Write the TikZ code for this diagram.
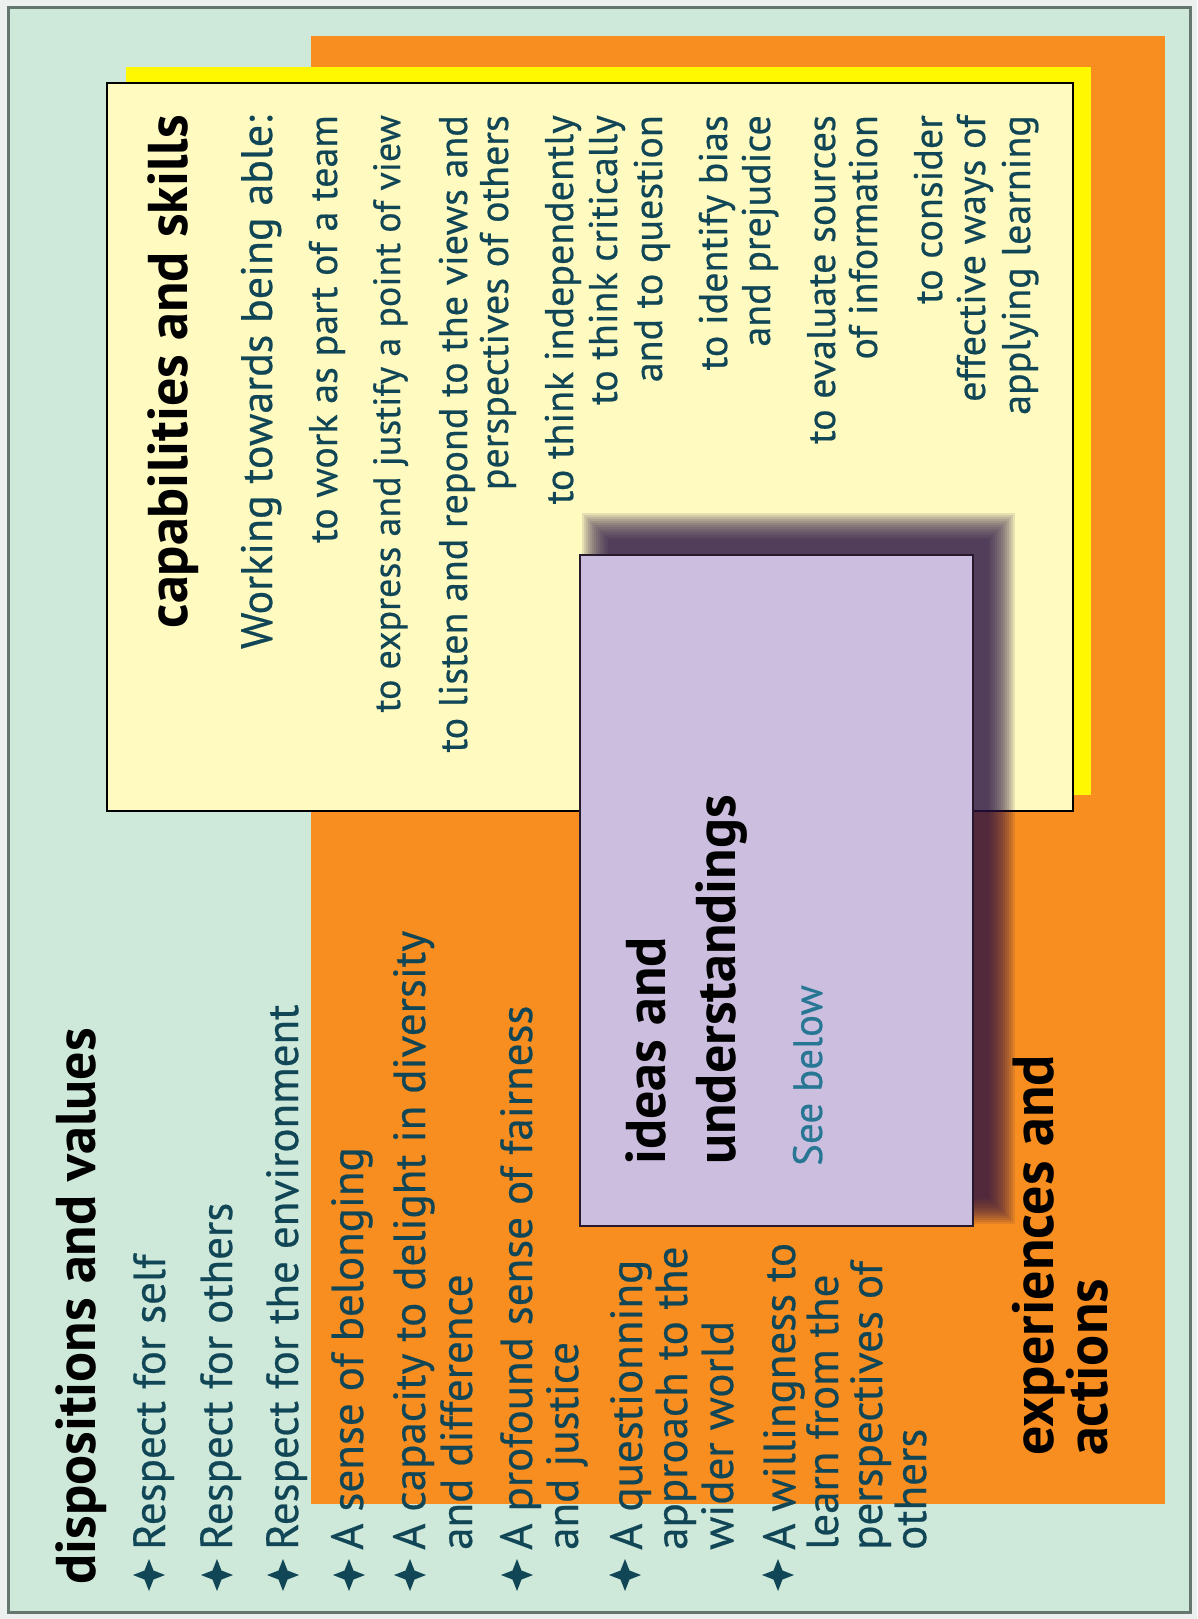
\documentclass[tikz,border=0pt]{standalone}
\usepackage{fontspec}
\setmainfont{PT Sans}
\newfontfamily\bodyfont{PT Sans}[FakeBold=0.5]
\definecolor{pagec}{RGB}{236,240,238}
\definecolor{bgmint}{RGB}{206,232,218}
\definecolor{bordergrey}{RGB}{100,118,110}
\definecolor{orangec}{RGB}{248,142,32}
\definecolor{yellowc}{RGB}{255,248,0}
\definecolor{palec}{RGB}{255,250,192}
\definecolor{purplec}{RGB}{204,190,222}
\definecolor{purpleedge}{RGB}{40,25,45}
\definecolor{shadowc}{RGB}{45,20,70}
\definecolor{tealtext}{RGB}{16,70,86}
\definecolor{seebelowc}{RGB}{38,118,148}
\begin{document}
\begin{tikzpicture}[x=1pt,y=-1pt,
  capsline/.style={rotate=90, inner sep=0pt, text=tealtext, anchor=base east,
    font=\bodyfont\fontsize{40}{44}\selectfont},
  distxt/.style={rotate=90, inner sep=0pt, text=tealtext, anchor=base west,
    font=\bodyfont\fontsize{45}{48}\selectfont},
  ttl/.style={rotate=90, inner sep=0pt, text=black,
    font=\fontsize{56}{60}\selectfont\bfseries},
  sparkle/.pic={\fill[tealtext] (0,-16) -- (4.5,-4.5) -- (16,0) -- (4.5,4.5) -- (0,16)
    -- (-4.5,4.5) -- (-16,0) -- (-4.5,-4.5) -- cycle;}
]
\useasboundingbox (0,0) rectangle (1197,1619);
\fill[pagec] (0,0) rectangle (1197,1619);
% frame and panels
\filldraw[fill=bgmint, draw=bordergrey, line width=3pt] (8,8) rectangle (1190,1612);
\fill[orangec] (311,36) rectangle (1165,1504);
\fill[yellowc] (126,67) rectangle (1091,795);
\filldraw[fill=palec, draw=black, line width=2.5pt] (107,83) rectangle (1073,811);
% blurred shadow of the purple box
\foreach \r in {20,18,...,-6}
  \fill[shadowc, fill opacity=0.11] (602-\r,533-\r) rectangle (995+\r,1204+\r);
\filldraw[fill=purplec, draw=purpleedge, line width=2.5pt] (580,555) rectangle (973,1226);

% capabilities and skills
\node[ttl, anchor=base east] (capt) at (187,115) {capabilities and skills};
\node[capsline, font=\bodyfont\fontsize{44}{48}\selectfont] (c1) at (272,115) {Working towards being able:};
\node[capsline] (c2) at (337,115) {to work as part of a team};
\node[capsline, font=\bodyfont\fontsize{38}{44}\selectfont] (c3) at (400,115) {to express and justify a point of view};
\node[capsline] (c4) at (467,115) {to listen and repond to the views and};
\node[capsline] (c5) at (508,115) {perspectives of others};
\node[capsline] (c6) at (573,115) {to think independently};
\node[capsline] (c7) at (617,115) {to think critically};
\node[capsline] (c8) at (662,115) {and to question};
\node[capsline] (c9) at (727,115) {to identify bias};
\node[capsline] (c10) at (770,115) {and prejudice};
\node[capsline] (c11) at (835,115) {to evaluate sources};
\node[capsline] (c12) at (877,115) {of information};
\node[capsline] (c13) at (942,115) {to consider};
\node[capsline] (c14) at (985,115) {effective ways of};
\node[capsline] (c15) at (1030,115) {applying learning};

% dispositions and values
\node[ttl, anchor=base west] (dispt) at (95,1585) {dispositions and values};
\node[distxt] (d1) at (165,1550) {Respect for self};
\node[distxt] (d2) at (232,1550) {Respect for others};
\node[distxt] (d3) at (298,1550) {Respect for the environment};
\node[distxt] (d4) at (363,1550) {A sense of belonging};
\node[distxt] (d5) at (425,1550) {A capacity to delight in diversity};
\node[distxt] (d5b) at (472,1550) {and difference};
\node[distxt] (d6) at (532,1550) {A profound sense of fairness};
\node[distxt] (d6b) at (578,1550) {and justice};
\node[distxt] (d7) at (642,1550) {A questionning};
\node[distxt] (d7b) at (687,1550) {approach to the};
\node[distxt] (d7c) at (733,1550) {wider world};
\node[distxt] (d8) at (795,1550) {A willingness to};
\node[distxt] (d8b) at (838,1550) {learn from the};
\node[distxt] (d8c) at (882,1550) {perspectives of};
\node[distxt] (d8d) at (926,1550) {others};
\foreach \bx in {149,217,283,349,410,517,625,778}
  \pic at (\bx,1575) {sparkle};

% ideas and understandings
\node[ttl, anchor=base west] (ideas1) at (665,1165) {ideas and};
\node[ttl, anchor=base west] (ideas2) at (735,1165) {understandings};
\node[rotate=90, inner sep=0pt, anchor=base west, text=seebelowc,
  font=\bodyfont\fontsize{41}{44}\selectfont] (seeb) at (822,1166) {See below};

% experiences and actions
\node[ttl, anchor=base west, font=\fontsize{58}{62}\selectfont\bfseries] (exp1) at (1053,1456) {experiences and};
\node[ttl, anchor=base west, font=\fontsize{58}{62}\selectfont\bfseries] (exp2) at (1107,1456) {actions};
\end{tikzpicture}
\end{document}
